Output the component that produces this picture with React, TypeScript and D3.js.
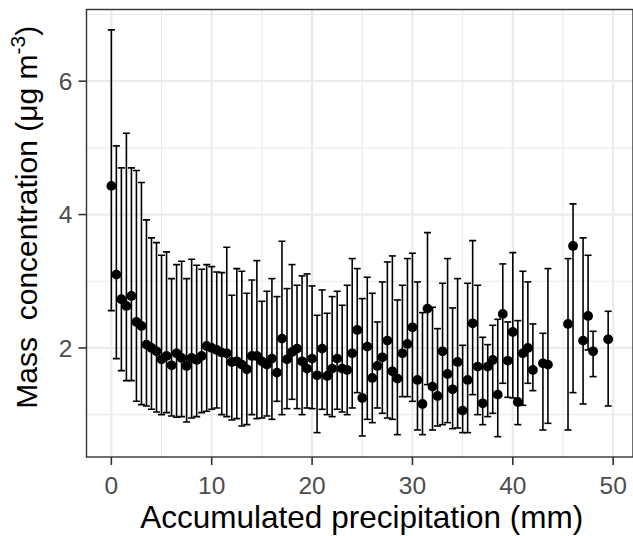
import React from "react";
import * as d3 from "d3";

const precip = [0,0.5,1,1.5,2,2.5,3,3.5,4,4.5,5,5.5,6,6.5,7,7.5,8,8.5,9,9.5,10,10.5,11,11.5,12,12.5,13,13.5,14,14.5,15,15.5,16,16.5,17,17.5,18,18.5,19,19.5,20,20.5,21,21.5,22,22.5,23,23.5,24,24.5,25,25.5,26,26.5,27,27.5,28,28.5,29,29.5,30,30.5,31,31.5,32,32.5,33,33.5,34,34.5,35,35.5,36,36.5,37,37.5,38,38.5,39,39.5,40,40.5,41,41.5,42,43,43.5,45.5,46,47,47.5,48,49.5];
const meanConc = [4.43,3.10,2.73,2.63,2.78,2.39,2.33,2.05,2.00,1.95,1.83,1.88,1.74,1.92,1.85,1.73,1.85,1.82,1.88,2.03,2.00,1.97,1.93,1.92,1.79,1.80,1.75,1.68,1.88,1.88,1.80,1.75,1.84,1.63,2.14,1.83,1.94,1.99,1.80,1.69,1.84,1.59,1.99,1.58,1.69,1.84,1.69,1.67,1.92,2.27,1.25,2.02,1.55,1.73,1.86,2.11,1.65,1.54,1.92,2.06,2.31,1.52,1.16,2.59,1.42,1.28,1.95,1.61,1.38,1.79,1.06,1.52,2.37,1.72,1.17,1.72,1.82,1.30,2.51,1.81,2.24,1.19,1.92,2.00,1.67,1.77,1.75,2.36,3.53,2.11,2.48,1.95,2.13];
const lowerConc = [2.56,1.84,1.66,1.51,1.51,1.20,1.15,1.13,1.08,1.04,1.00,1.03,0.98,0.96,0.97,0.89,0.95,0.97,1.03,1.05,1.08,1.10,1.00,0.97,0.92,0.94,0.83,0.85,1.00,0.94,0.95,0.98,0.93,1.20,1.00,1.09,1.23,1.09,1.00,1.10,1.09,0.73,1.08,1.00,0.97,1.08,1.04,1.00,1.10,1.33,0.68,0.93,0.88,1.10,1.02,0.95,0.93,0.70,1.27,1.27,1.20,0.77,0.70,1.45,0.77,0.83,0.85,0.88,0.79,0.80,0.73,0.73,1.30,1.00,0.85,0.97,1.02,0.67,1.47,1.26,1.25,0.85,1.14,1.47,1.36,0.77,0.87,0.77,1.33,1.16,1.97,1.57,1.13];
const upperConc = [6.77,5.03,4.70,5.22,4.70,4.66,4.48,3.92,3.65,3.58,3.39,3.44,3.04,3.25,3.30,3.04,3.33,3.24,3.18,3.25,3.22,3.14,3.13,3.51,2.79,3.19,3.15,2.82,3.02,3.31,2.70,2.85,3.04,2.77,3.60,2.89,3.25,2.94,3.08,3.11,2.93,2.49,2.87,2.52,2.77,2.85,2.64,2.94,3.34,3.19,2.74,3.06,2.82,2.39,2.99,3.29,3.38,2.72,2.94,3.34,3.42,2.99,2.53,3.73,2.61,2.29,2.97,3.34,2.60,3.04,2.04,2.97,3.61,2.94,2.16,2.05,2.34,2.43,3.26,2.39,3.43,2.41,3.15,2.99,2.36,2.22,3.19,3.34,4.16,3.65,3.39,2.25,2.55];

const xTicks = [0, 10, 20, 30, 40, 50];
const xMinor = [5, 15, 25, 35, 45];
const yTicks = [2, 4, 6];
const yMinor = [1, 3, 5, 7];

const W = 633;
const H = 536;
const left = 86.5;
const right = 633;
const top = 9.5;
const bottom = 457;

export default function App() {
  const xMinD = d3.min(precip)!;
  const xMaxD = d3.max(precip)!;
  const xPad = (xMaxD - xMinD) * 0.05;
  const yMinD = d3.min(lowerConc)!;
  const yMaxD = d3.max(upperConc)!;
  const yPad = (yMaxD - yMinD) * 0.05;

  const x = d3.scaleLinear().domain([xMinD - xPad, xMaxD + xPad]).range([left, right]);
  const y = d3.scaleLinear().domain([yMinD - yPad, yMaxD + yPad]).range([bottom, top]);

  const capHalf = 0.35;
  const font = "'Liberation Sans', Arial, sans-serif";

  return (
    <svg width={W} height={H} style={{ position: "absolute", left: 0, top: 0, background: "#fff" }}>
      <rect x={0} y={0} width={W} height={H} fill="#fff" />
      <defs>
        <clipPath id="panel">
          <rect x={left} y={top} width={right - left} height={bottom - top} />
        </clipPath>
      </defs>
      <g clipPath="url(#panel)">
        {yMinor.map((v) => (
          <line key={"ym" + v} x1={left} x2={right} y1={y(v)} y2={y(v)} stroke="#EBEBEB" strokeWidth={1.1} />
        ))}
        {xMinor.map((v) => (
          <line key={"xm" + v} x1={x(v)} x2={x(v)} y1={top} y2={bottom} stroke="#EBEBEB" strokeWidth={1.1} />
        ))}
        {yTicks.map((v) => (
          <line key={"yg" + v} x1={left} x2={right} y1={y(v)} y2={y(v)} stroke="#EBEBEB" strokeWidth={2.2} />
        ))}
        {xTicks.map((v) => (
          <line key={"xg" + v} x1={x(v)} x2={x(v)} y1={top} y2={bottom} stroke="#EBEBEB" strokeWidth={2.2} />
        ))}
        {precip.map((p, i) => (
          <g key={"e" + i} stroke="#000" strokeWidth={1.6}>
            <line x1={x(p)} x2={x(p)} y1={y(lowerConc[i])} y2={y(upperConc[i])} />
            <line x1={x(p - capHalf)} x2={x(p + capHalf)} y1={y(lowerConc[i])} y2={y(lowerConc[i])} />
            <line x1={x(p - capHalf)} x2={x(p + capHalf)} y1={y(upperConc[i])} y2={y(upperConc[i])} />
          </g>
        ))}
        {precip.map((p, i) => (
          <circle key={"p" + i} cx={x(p)} cy={y(meanConc[i])} r={4.9} fill="#000" />
        ))}
      </g>
      <rect x={left} y={top} width={right - left} height={bottom - top} fill="none" stroke="#333" strokeWidth={1.4} />
      {xTicks.map((v) => (
        <g key={"xt" + v}>
          <line x1={x(v)} x2={x(v)} y1={bottom} y2={bottom + 8} stroke="#333" strokeWidth={1.6} />
          <text x={x(v)} y={494} textAnchor="middle" fontFamily={font} fontSize={24.5} fill="#4D4D4D">{v}</text>
        </g>
      ))}
      {yTicks.map((v) => (
        <g key={"yt" + v}>
          <line x1={left - 8} x2={left} y1={y(v)} y2={y(v)} stroke="#333" strokeWidth={1.6} />
          <text x={left - 14} y={y(v)} dy="0.36em" textAnchor="end" fontFamily={font} fontSize={24.5} fill="#4D4D4D">{v}</text>
        </g>
      ))}
      <text x={(left + right) / 2 + 2} y={528} textAnchor="middle" fontFamily={font} fontSize={31.5} fill="#000">
        Accumulated precipitation (mm)
      </text>
      <text
        transform={`translate(37, ${(top + bottom) / 2 - 16}) rotate(-90)`}
        textAnchor="middle"
        fontFamily={font}
        fontSize={30}
        fill="#000"
        style={{ whiteSpace: "pre" }}
      >
        {"Mass  concentration (μg m"}
        <tspan fontSize={21} dy={-12}>-3</tspan>
        <tspan dy={12}>)</tspan>
      </text>
    </svg>
  );
}
